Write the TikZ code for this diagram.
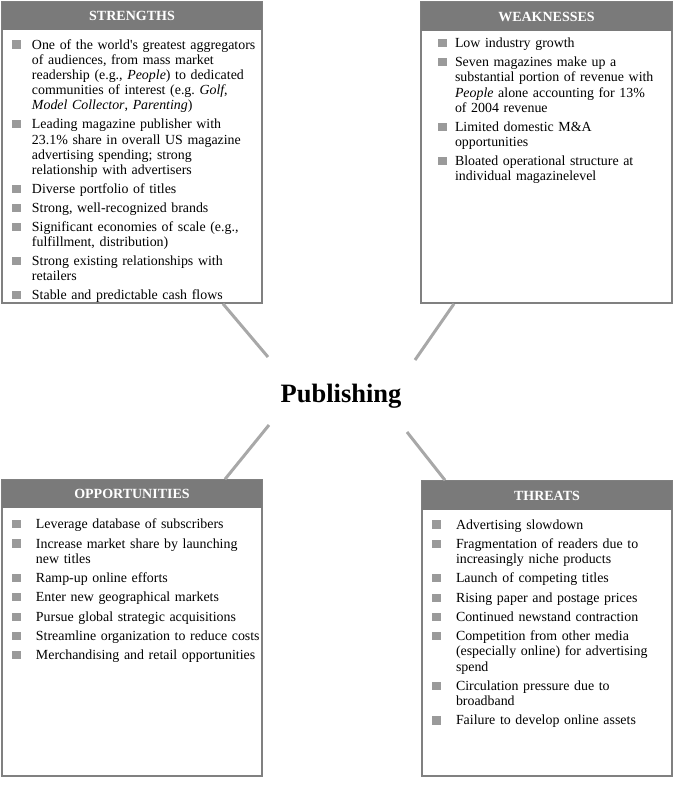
\documentclass[tikz,border=0pt]{standalone}
\usepackage{fontspec}
\setmainfont{Liberation Serif}[Ligatures=TeXOff]
\usetikzlibrary{calc}
\frenchspacing
\definecolor{headgray}{HTML}{7A7A7A}
\definecolor{bordergray}{HTML}{808080}
\definecolor{bulletgray}{HTML}{9A9A9A}
\definecolor{conngray}{HTML}{A8A8A8}
\newlength\bind
\newcommand\bulletbox{\makebox[\bind][l]{\textcolor{bulletgray}{\rule[0.4pt]{8.8pt}{8.2pt}}}}
\newcommand\itmfirst[1]{\hangindent=\bind\hangafter=1\noindent\bulletbox#1}
\newcommand\itm[1]{\par\hangindent=\bind\hangafter=1\noindent\bulletbox#1}
\begin{document}
\begin{tikzpicture}[x=1pt,y=-1pt,
  boxframe/.style={draw=bordergray,line width=1.6pt,fill=white,inner sep=0pt,outer sep=0pt,anchor=north west},
  headbar/.style={fill=headgray,inner sep=0pt,outer sep=0pt,anchor=north west,text=white,font=\fontsize{14}{16}\selectfont\bfseries},
  bodytext/.style={text width=300pt,inner sep=0pt,outer sep=0pt,anchor=base west,font=\fontsize{13.9}{15.2}\selectfont\frenchspacing},
  conn/.style={draw=conngray,line width=3pt},
  title/.style={font=\fontsize{26.5}{30}\selectfont\bfseries,inner sep=0pt}]
\useasboundingbox (0,0) rectangle (691,785);

% boxes
\node[boxframe,minimum width=260pt,minimum height=301pt] (S) at (2,2) {};
\node[boxframe,minimum width=251pt,minimum height=301pt] (W) at (421,2) {};
\node[boxframe,minimum width=260pt,minimum height=296pt] (O) at (2,480) {};
\node[boxframe,minimum width=250pt,minimum height=295pt] (T) at (422,481) {};

% headers
\node[headbar,minimum width=260pt,minimum height=28pt] (Sh) at (2,2) {STRENGTHS};
\node[headbar,minimum width=251pt,minimum height=29pt] (Wh) at (421,2) {WEAKNESSES};
\node[headbar,minimum width=260pt,minimum height=28pt] (Oh) at (2,480) {OPPORTUNITIES};
\node[headbar,minimum width=250pt,minimum height=29pt] (Th) at (422,481) {THREATS};

% bodies
\node[bodytext] (Sb) at (12,49) {\setlength\bind{20pt}\setlength\parskip{3.8pt}%
\itmfirst{One of the world's greatest aggregators\newline of audiences, from mass market\newline readership (e.g., \emph{People}) to dedicated\newline communities of interest (e.g. \emph{Golf},\newline \emph{Model Collector}, \emph{Parenting})}%
\itm{Leading magazine publisher with\newline 23.1\% share in overall US magazine\newline advertising spending; strong\newline relationship with advertisers}%
\itm{Diverse portfolio of titles}%
\itm{Strong, well-recognized brands}%
\itm{Significant economies of scale (e.g.,\newline fulfillment, distribution)}%
\itm{Strong existing relationships with\newline retailers}%
\itm{Stable and predictable cash flows}\par};

\node[bodytext] (Wb) at (438,47.7) {\setlength\bind{17pt}\setlength\parskip{3.8pt}%
\itmfirst{Low industry growth}%
\itm{Seven magazines make up a\newline substantial portion of revenue with\newline \emph{People} alone accounting for 13\%\newline of 2004 revenue}%
\itm{Limited domestic M\&A\newline opportunities}%
\itm{Bloated operational structure at\newline individual magazinelevel}\par};

\node[bodytext] (Ob) at (12,528.7) {\setlength\bind{24pt}\setlength\parskip{4.1pt}%
\itmfirst{Leverage database of subscribers}%
\itm{Increase market share by launching\newline new titles}%
\itm{Ramp-up online efforts}%
\itm{Enter new geographical markets}%
\itm{Pursue global strategic acquisitions}%
\itm{Streamline organization to reduce costs}%
\itm{Merchandising and retail opportunities}\par};

\node[bodytext] (Tb) at (432,529) {\setlength\bind{24pt}\setlength\parskip{4.1pt}%
\itmfirst{Advertising slowdown}%
\itm{Fragmentation of readers due to\newline increasingly niche products}%
\itm{Launch of competing titles}%
\itm{Rising paper and postage prices}%
\itm{Continued newstand contraction}%
\itm{Competition from other media\newline (especially online) for advertising\newline spend}%
\itm{Circulation pressure due to\newline broadband}%
\itm{Failure to develop online assets}\par};

% centre
\node[title] (P) at (341,396) {Publishing};

% connectors
\coordinate (s1) at (223,303.8);
\coordinate (s2) at (268,357);
\coordinate (w1) at (454,303.8);
\coordinate (w2) at (415,360);
\coordinate (o1) at (269,425);
\coordinate (o2) at (225,479.2);
\coordinate (t1) at (407,432);
\coordinate (t2) at (445,480.2);
\draw[conn] (s1) -- (s2);
\draw[conn] (w1) -- (w2);
\draw[conn] (o1) -- (o2);
\draw[conn] (t1) -- (t2);
\end{tikzpicture}
\end{document}
